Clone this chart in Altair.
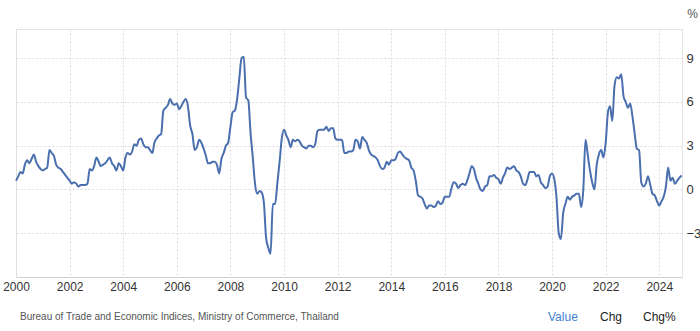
import altair as alt
import pandas as pd

# Monthly inflation rate (%), Thailand
y2000 = [0.6, 0.9, 1.2, 1.1, 1.7, 2.0, 1.8, 2.1, 2.4, 1.9, 1.6, 1.4]
y2001 = [1.3, 1.4, 1.5, 2.7, 2.5, 2.3, 1.7, 1.5, 1.4, 1.2, 1.0, 0.8]
y2002 = [0.6, 0.4, 0.5, 0.4, 0.2, 0.3, 0.3, 0.3, 0.4, 1.4, 1.3, 1.6]
y2003 = [2.2, 1.9, 1.6, 1.7, 1.8, 2.0, 2.2, 1.8, 1.6, 1.3, 1.8, 1.6]
y2004 = [1.3, 2.2, 2.5, 2.4, 2.6, 3.1, 3.0, 3.4, 3.5, 3.1, 2.9, 2.9]
y2005 = [2.7, 2.5, 3.2, 3.5, 3.7, 3.8, 5.4, 5.6, 5.8, 6.2, 5.9, 5.8]
y2006 = [5.9, 5.5, 5.7, 6.0, 6.2, 5.7, 4.4, 3.8, 2.7, 2.9, 3.4, 3.2]
y2007 = [2.8, 2.3, 1.8, 1.8, 1.9, 1.9, 1.7, 1.1, 2.1, 2.5, 3.0, 3.2]
y2008 = [4.3, 5.3, 5.4, 6.2, 7.6, 9.0, 9.1, 6.3, 6.1, 3.9, 2.2, 0.4]
y2009 = [-0.3, -0.1, -0.2, -0.9, -3.3, -4.0, -4.4, -1.0, -1.0, 0.4, 1.9, 3.5]
y2010 = [4.1, 3.7, 3.4, 2.9, 3.4, 3.3, 3.4, 3.3, 3.0, 2.9, 2.8, 3.0]
y2011 = [3.0, 2.9, 3.1, 4.0, 4.1, 4.1, 4.1, 4.3, 4.0, 4.2, 4.2, 3.5]
y2012 = [3.4, 3.4, 3.4, 2.5, 2.5, 2.6, 2.6, 2.7, 3.4, 3.3, 2.8, 3.6]
y2013 = [3.4, 3.2, 2.7, 2.4, 2.3, 2.2, 2.0, 1.6, 1.4, 1.5, 1.9, 1.7]
y2014 = [2.0, 2.0, 2.1, 2.5, 2.6, 2.4, 2.2, 2.1, 2.0, 1.5, 1.3, 0.6]
y2015 = [-0.4, -0.5, -0.6, -1.0, -1.3, -1.1, -1.1, -1.2, -1.1, -0.8, -1.0, -0.9]
y2016 = [-0.5, -0.5, -0.5, 0.1, 0.5, 0.4, 0.1, 0.3, 0.4, 0.3, 0.6, 1.1]
y2017 = [1.6, 1.4, 0.8, 0.4, 0.0, -0.1, 0.2, 0.3, 0.9, 0.9, 1.0, 0.8]
y2018 = [0.7, 0.4, 0.8, 1.1, 1.5, 1.4, 1.5, 1.6, 1.3, 1.2, 0.9, 0.4]
y2019 = [0.3, 0.7, 1.2, 1.2, 1.2, 0.9, 1.0, 0.5, 0.3, 0.1, 0.2, 0.9]
y2020 = [1.1, 0.7, -0.5, -3.0, -3.4, -1.6, -1.0, -0.5, -0.7, -0.5, -0.4, -0.3]
y2021 = [-0.3, -1.2, -0.1, 3.4, 2.4, 1.3, 0.5, 0.0, 1.7, 2.4, 2.7, 2.2]
y2022 = [3.2, 5.3, 5.7, 4.7, 7.1, 7.7, 7.6, 7.9, 6.4, 6.0, 5.6, 5.9]
y2023 = [5.0, 3.8, 2.8, 2.7, 0.5, 0.2, 0.4, 0.9, 0.3, -0.3, -0.4, -0.8]
y2024 = [-1.1, -0.8, -0.5, 0.2, 1.5, 0.6, 0.8, 0.4, 0.6, 0.8, 0.95]

tick_years = list(range(2000, 2025, 2))
y_ticks = [-3, 0, 3, 6, 9]
source_text = ["Bureau of Trade and Economic Indices, Ministry of Commerce, Thailand"]
buttons = ["Value", "Chg", "Chg%"]

series = (y2000 + y2001 + y2002 + y2003 + y2004 + y2005 + y2006 + y2007 + y2008
          + y2009 + y2010 + y2011 + y2012 + y2013 + y2014 + y2015 + y2016 + y2017
          + y2018 + y2019 + y2020 + y2021 + y2022 + y2023 + y2024)
dates = pd.date_range("2000-01-01", periods=len(series), freq="MS")
df = pd.DataFrame({"date": dates.strftime("%Y-%m-%d"), "value": series})

grid_color = "#dcdcdc"

line = alt.Chart(df).mark_line(
    color="#4a6faf", strokeWidth=2, interpolate="monotone"
).encode(
    x=alt.X(
        "date:T",
        scale=alt.Scale(domain=[alt.DateTime(year=2000, month=1, date=1),
                                alt.DateTime(year=2024, month=11, date=6)]),
        axis=alt.Axis(
            values=[alt.DateTime(year=y, month=1, date=1) for y in tick_years],
            format="%Y", title=None, ticks=False, labelFontSize=12,
            labelColor="#333333", labelFont="Liberation Sans", labelPadding=4,
            domainColor="#d0d0d0", grid=True, gridColor=grid_color,
            gridDash=[2, 2], labelFlush=False,
        ),
    ),
    y=alt.Y(
        "value:Q",
        scale=alt.Scale(domain=[-6, 11], nice=False, zero=False),
        axis=alt.Axis(
            orient="right", values=y_ticks, title="%", titleAngle=0,
            titleX=10, titleY=-16, titleAlign="center", titleBaseline="middle",
            titleFontWeight="normal", titleFontSize=12, titleColor="#555555",
            titleFont="Liberation Sans",
            ticks=False, domain=False, labelFontSize=13, labelColor="#333333",
            labelFont="Liberation Sans", labelPadding=4, grid=True,
            gridColor=grid_color, gridDash=[2, 2],
        ),
    ),
)

src = alt.Chart(pd.DataFrame({"t": source_text})).mark_text(
    align="left", baseline="middle", fontSize=10, color="#555555",
    font="Liberation Sans",
).encode(text="t:N", x=alt.value(4), y=alt.value(288))

btn_value = alt.Chart(pd.DataFrame({"t": buttons[:1]})).mark_text(
    align="left", baseline="middle", fontSize=12, color="#3f7fd0",
    font="Liberation Sans",
).encode(text="t:N", x=alt.value(532), y=alt.value(288))

btn_chg = alt.Chart(pd.DataFrame({"t": buttons[1:2]})).mark_text(
    align="left", baseline="middle", fontSize=12, color="#222222",
    font="Liberation Sans",
).encode(text="t:N", x=alt.value(584), y=alt.value(288))

btn_chgp = alt.Chart(pd.DataFrame({"t": buttons[2:3]})).mark_text(
    align="left", baseline="middle", fontSize=12, color="#222222",
    font="Liberation Sans",
).encode(text="t:N", x=alt.value(627), y=alt.value(288))

chart = alt.layer(line, src, btn_value, btn_chg, btn_chgp).properties(
    width=666, height=248,
    autosize=alt.AutoSizeParams(type="none"),
    padding={"left": 16, "top": 29, "right": 18, "bottom": 54},
    background="white",
).configure_view(stroke="#e4e4e4", strokeWidth=1)

chart.save("out.html", embed_options={"renderer": "svg", "actions": False})
